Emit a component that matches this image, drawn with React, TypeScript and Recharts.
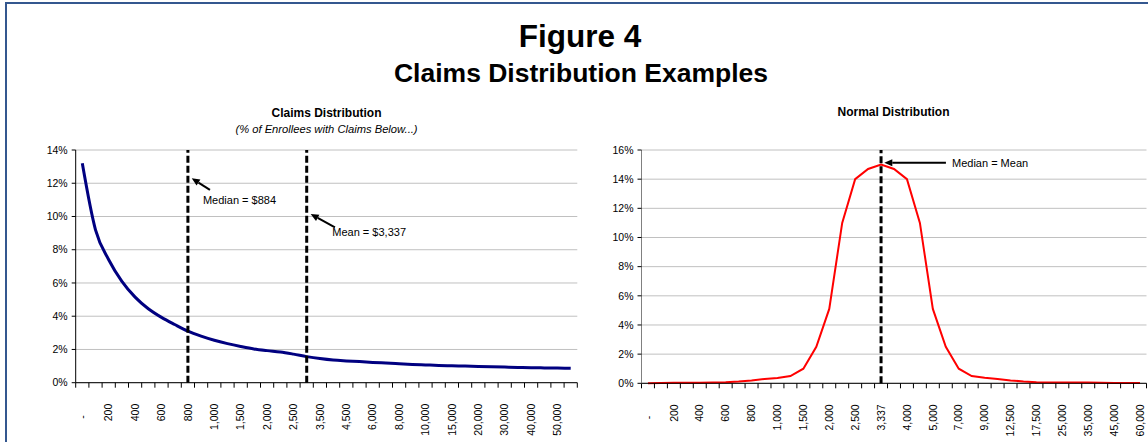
import React from 'react';
import { LineChart, Line, XAxis, YAxis, CartesianGrid, ReferenceLine, ReferenceDot } from 'recharts';

const FONT = 'Arial, "Liberation Sans", sans-serif';

// left panel: share of enrollees by claims bucket (%)
const claimCategories = [
    '-', '100', '200', '300', '400', '500', '600', '700', '800', '900',
    '1,000', '1,250', '1,500', '1,750', '2,000', '2,250', '2,500', '3,000', '3,500', '4,000',
    '4,500', '5,000', '6,000', '7,000', '8,000', '9,000', '10,000', '12,500', '15,000', '17,500',
    '20,000', '25,000', '30,000', '35,000', '40,000', '45,000', '50,000', '60,000',
];
const claimShare = [
    13.2, 9.2, 7.4, 6.1, 5.15, 4.45, 3.93, 3.5, 3.1, 2.8,
    2.55, 2.35, 2.18, 2.03, 1.93, 1.85, 1.72, 1.57, 1.45, 1.36,
    1.31, 1.27, 1.22, 1.18, 1.14, 1.1, 1.07, 1.04, 1.02, 1.0,
    0.98, 0.96, 0.94, 0.92, 0.9, 0.89, 0.88, 0.87,
];
const claimYTicks = [0, 2, 4, 6, 8, 10, 12, 14];
const claimMarkers = ['800', '3,000'];

// right panel: normal distribution (%)
const normalCategories = [
    '-', '100', '200', '300', '400', '500', '600', '700', '800', '900',
    '1,000', '1,250', '1,500', '1,750', '2,000', '2,250', '2,500', '3,000', '3,337', '3,500',
    '4,000', '4,500', '5,000', '6,000', '7,000', '8,000', '9,000', '10,000', '12,500', '15,000',
    '17,500', '20,000', '25,000', '30,000', '35,000', '40,000', '45,000', '50,000', '60,000',
];
const normalShare = [
    0, 0.02, 0.03, 0.04, 0.04, 0.05, 0.07, 0.12, 0.2, 0.3,
    0.36, 0.5, 1.0, 2.5, 5.1, 11.0, 14.0, 14.7, 15.0, 14.7,
    14.0, 11.0, 5.1, 2.5, 1.0, 0.5, 0.38, 0.3, 0.2, 0.12,
    0.07, 0.05, 0.05, 0.05, 0.05, 0.04, 0.02, 0.02, 0.02,
];
const normalYTicks = [0, 2, 4, 6, 8, 10, 12, 14, 16];
const normalMarkers = ['3,337'];

// annotations in data units (x = category slot, y = %)
type Note = { text: string; tail: [number, number]; head: [number, number]; at: [number, number] };
const claimNotes: Note[] = [
    { text: 'Median = $884', tail: [10.17, 11.6], head: [8.79, 12.3], at: [9.64, 10.98] },
    { text: 'Mean = $3,337', tail: [19.64, 9.35], head: [17.8, 10.15], at: [19.44, 9.03] },
];
const normalNotes: Note[] = [
    { text: 'Median = Mean', tail: [23.51, 15.13], head: [18.75, 15.13], at: [23.98, 15.13] },
];

const Arrow = (props: any) => {
    const { x1, y1, x2, y2 } = props;
    const a = Math.atan2(y2 - y1, x2 - x1);
    const len = 8;
    const w = 3.5;
    const bx = x2 - len * Math.cos(a);
    const by = y2 - len * Math.sin(a);
    const px = -Math.sin(a) * w;
    const py = Math.cos(a) * w;
    return (
        <g>
            <line x1={x1} y1={y1} x2={bx} y2={by} stroke="#000" strokeWidth={2} />
            <polygon points={`${x2},${y2} ${bx + px},${by + py} ${bx - px},${by - py}`} fill="#000" />
        </g>
    );
};

const NoTick = () => <g />;

const CatTick = (props: any) => {
    const { x, y, payload, cats } = props;
    const label = cats[Math.floor(payload.value)];
    return (
        <text
            x={x}
            y={y}
            transform={`rotate(-90, ${x}, ${y})`}
            textAnchor="end"
            dy="0.35em"
            dx={label === '-' ? '-1.1em' : 0}
            fontSize={10.5}
            fontFamily={FONT}
            fill="#000"
        >
            {label}
        </text>
    );
};

interface PanelProps {
    cats: string[];
    values: number[];
    yTicks: number[];
    color: string;
    width: number;
    strokeWidth: number;
    smooth: boolean;
    yAxisColor: string;
    markers: string[];
    notes: Note[];
    margin: { top: number; right: number; bottom: number; left: number };
    yWidth: number;
}

const Panel: React.FC<PanelProps> = ({ cats, values, yTicks, color, width, strokeWidth, smooth, yAxisColor, markers, notes, margin, yWidth }) => {
    const data = values.map((v, i) => ({ x: i + 0.5, v }));
    const n = cats.length;
    const bounds = Array.from({ length: n + 1 }, (_, i) => i);
    const labelTicks = cats.map((_, i) => i + 0.5).filter((_, i) => i % 2 === 0);
    const yMax = yTicks[yTicks.length - 1];

    return (
        <LineChart width={width} height={442} data={data} margin={margin}>
            <CartesianGrid vertical={false} stroke="#c0c0c0" xAxisId="a_marks" />
            <XAxis
                xAxisId="a_marks"
                type="number"
                dataKey="x"
                domain={[0, n]}
                ticks={bounds}
                interval={0}
                tick={NoTick}
                tickSize={5}
                height={5}
                axisLine={{ stroke: '#000' }}
                tickLine={{ stroke: '#000' }}
            />
            <XAxis
                xAxisId="b_labels"
                type="number"
                dataKey="x"
                domain={[0, n]}
                ticks={labelTicks}
                interval={0}
                tick={(p: any) => <CatTick {...p} cats={cats} />}
                axisLine={false}
                tickLine={false}
                tickSize={0}
                tickMargin={16}
                height={50}
            />
            <YAxis
                type="number"
                domain={[0, yMax]}
                ticks={yTicks}
                interval={0}
                width={yWidth}
                tickFormatter={(v: number) => `${v}%`}
                tickSize={4}
                tickMargin={4}
                axisLine={{ stroke: yAxisColor }}
                tickLine={{ stroke: '#000' }}
                tick={{ fill: '#000', fontSize: 10.5, fontFamily: FONT }}
            />
            <Line
                xAxisId="a_marks"
                dataKey="v"
                type={smooth ? 'monotone' : 'linear'}
                stroke={color}
                strokeWidth={strokeWidth}
                dot={false}
                isAnimationActive={false}
            />
            {markers.map((m) => (
                <ReferenceLine
                    key={m}
                    xAxisId="a_marks"
                    x={cats.indexOf(m) + 0.5}
                    stroke="#000"
                    strokeWidth={3}
                    strokeDasharray="7 3"
                />
            ))}
            {notes.map((nt) => (
                <ReferenceLine
                    key={nt.text + 'a'}
                    xAxisId="a_marks"
                    segment={[{ x: nt.tail[0], y: nt.tail[1] }, { x: nt.head[0], y: nt.head[1] }]}
                    shape={Arrow}
                />
            ))}
            {notes.map((nt) => (
                <ReferenceDot
                    key={nt.text + 't'}
                    xAxisId="a_marks"
                    x={nt.at[0]}
                    y={nt.at[1]}
                    r={0}
                    shape={(p: any) => (
                        <text x={p.cx} y={p.cy} dy="0.35em" fontSize={11} fontFamily={FONT} fill="#000">
                            {nt.text}
                        </text>
                    )}
                />
            ))}
        </LineChart>
    );
};

const textBase: React.CSSProperties = {
    position: 'absolute',
    fontFamily: FONT,
    lineHeight: 1,
    textAlign: 'center',
    whiteSpace: 'nowrap',
    color: '#000',
};

export default function App() {
    return (
        <div style={{ position: 'absolute', left: 0, top: 0, width: 1148, height: 442, overflow: 'hidden', background: '#fff' }}>
            <div style={{ position: 'absolute', left: 5, top: 2, width: 1200, height: 500, border: '2px solid #34578f', boxSizing: 'border-box' }} />
            <div style={{ ...textBase, left: 0, width: 1160, top: 21, fontSize: 31.5, fontWeight: 'bold' }}>Figure 4</div>
            <div style={{ ...textBase, left: 0, width: 1162, top: 60, fontSize: 26.5, fontWeight: 'bold' }}>Claims Distribution Examples</div>

            <div style={{ ...textBase, left: 76, width: 501, top: 107, fontSize: 12, fontWeight: 'bold' }}>Claims Distribution</div>
            <div style={{ ...textBase, left: 76, width: 501, top: 123.5, fontSize: 11.2, fontStyle: 'italic' }}>(% of Enrollees with Claims Below...)</div>
            <div style={{ ...textBase, left: 641, width: 505, top: 106, fontSize: 12, fontWeight: 'bold' }}>Normal Distribution</div>

            <div style={{ position: 'absolute', left: 0, top: 0 }}>
                <Panel
                    cats={claimCategories}
                    values={claimShare}
                    yTicks={claimYTicks}
                    color="#000080"
                    width={590}
                    strokeWidth={3}
                    smooth
                    yAxisColor="#000"
                    markers={claimMarkers}
                    notes={claimNotes}
                    margin={{ top: 150, right: 12.7, bottom: 4.3, left: 15.7 }}
                    yWidth={60}
                />
            </div>
            <div style={{ position: 'absolute', left: 580, top: 0 }}>
                <Panel
                    cats={normalCategories}
                    values={normalShare}
                    yTicks={normalYTicks}
                    color="#ff0000"
                    width={568}
                    strokeWidth={2}
                    smooth={false}
                    yAxisColor="#808080"
                    markers={normalMarkers}
                    notes={normalNotes}
                    margin={{ top: 150, right: 1.5, bottom: 3.7, left: 6.5 }}
                    yWidth={55}
                />
            </div>
        </div>
    );
}
